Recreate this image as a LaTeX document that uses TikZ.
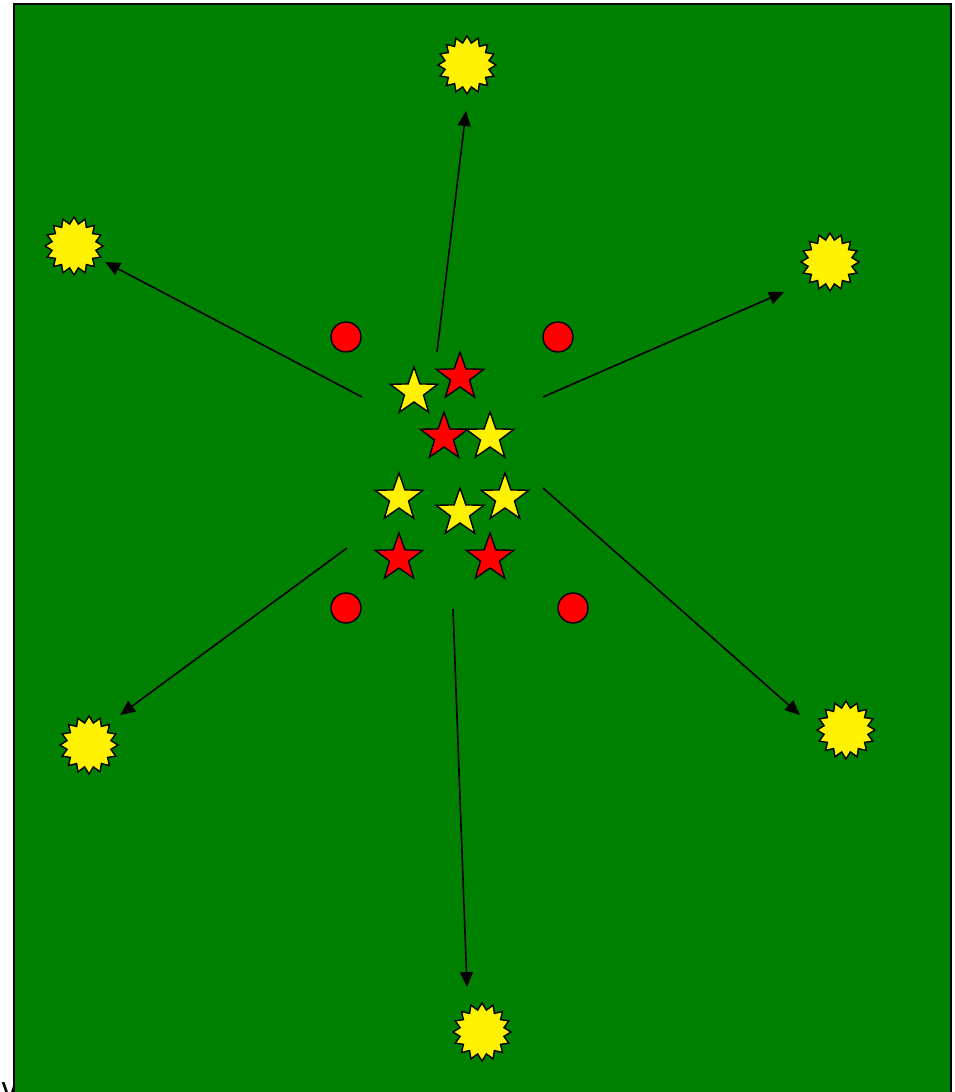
\documentclass[tikz,border=0pt]{standalone}
\usepackage{fontspec}
\setmainfont{Liberation Sans}
\usetikzlibrary{shapes.geometric,arrows.meta}
\begin{document}
\begin{tikzpicture}[x=1pt,y=-1pt,
    player/.style={star,star points=5,star point ratio=2.5,minimum size=50pt,
      inner sep=0pt,draw=black,line width=1.4pt},
    cone/.style={circle,minimum size=30pt,inner sep=0pt,fill=red,draw=black,line width=1.4pt},
    burst/.style={star,star points=16,star point ratio=1.3,minimum size=58pt,
      inner sep=0pt,fill=yellow,draw=black,line width=1.4pt},
    run/.style={line width=1.6pt,-{Triangle[length=15pt,width=13pt]}}]
  \useasboundingbox (0,0) rectangle (954,1092);
  \node [anchor=base west,font=\fontsize{32}{32}\selectfont] (note) at (-2,1099) {v};
  \draw [fill={rgb,255:red,0;green,128;blue,0},line width=1.6pt]
    (14,4) rectangle (951,1100);
  % cones
  \node [cone] (c1) at (346,337) {};
  \node [cone] (c2) at (558,337) {};
  \node [cone] (c3) at (346,608) {};
  \node [cone] (c4) at (573,608) {};
  % players
  \node [player,fill=yellow] (y1) at (414,392) {};
  \node [player,fill=red]    (r1) at (460,377) {};
  \node [player,fill=red]    (r2) at (444,437) {};
  \node [player,fill=yellow] (y2) at (490,437) {};
  \node [player,fill=yellow] (y3) at (399,498) {};
  \node [player,fill=yellow] (y4) at (460,513) {};
  \node [player,fill=yellow] (y5) at (505,498) {};
  \node [player,fill=red]    (r3) at (399,558) {};
  \node [player,fill=red]    (r4) at (490,558) {};
  % targets
  \node [burst] (t1) at (467,65) {};
  \node [burst] (t2) at (74,246) {};
  \node [burst] (t3) at (830,262) {};
  \node [burst] (t4) at (89,745) {};
  \node [burst] (t5) at (846,730) {};
  \node [burst] (t6) at (482,1032) {};
  % runs
  \coordinate (s1) at (437,352); \coordinate (e1) at (466,111);
  \coordinate (s2) at (362,397); \coordinate (e2) at (105,262);
  \coordinate (s3) at (543,397); \coordinate (e3) at (784,292);
  \coordinate (s4) at (347,548); \coordinate (e4) at (120,715);
  \coordinate (s5) at (453,609); \coordinate (e5) at (467,987);
  \coordinate (s6) at (543,488); \coordinate (e6) at (800,715);
  \draw [run] (s1) -- (e1);
  \draw [run] (s2) -- (e2);
  \draw [run] (s3) -- (e3);
  \draw [run] (s4) -- (e4);
  \draw [run] (s5) -- (e5);
  \draw [run] (s6) -- (e6);
\end{tikzpicture}
\end{document}
